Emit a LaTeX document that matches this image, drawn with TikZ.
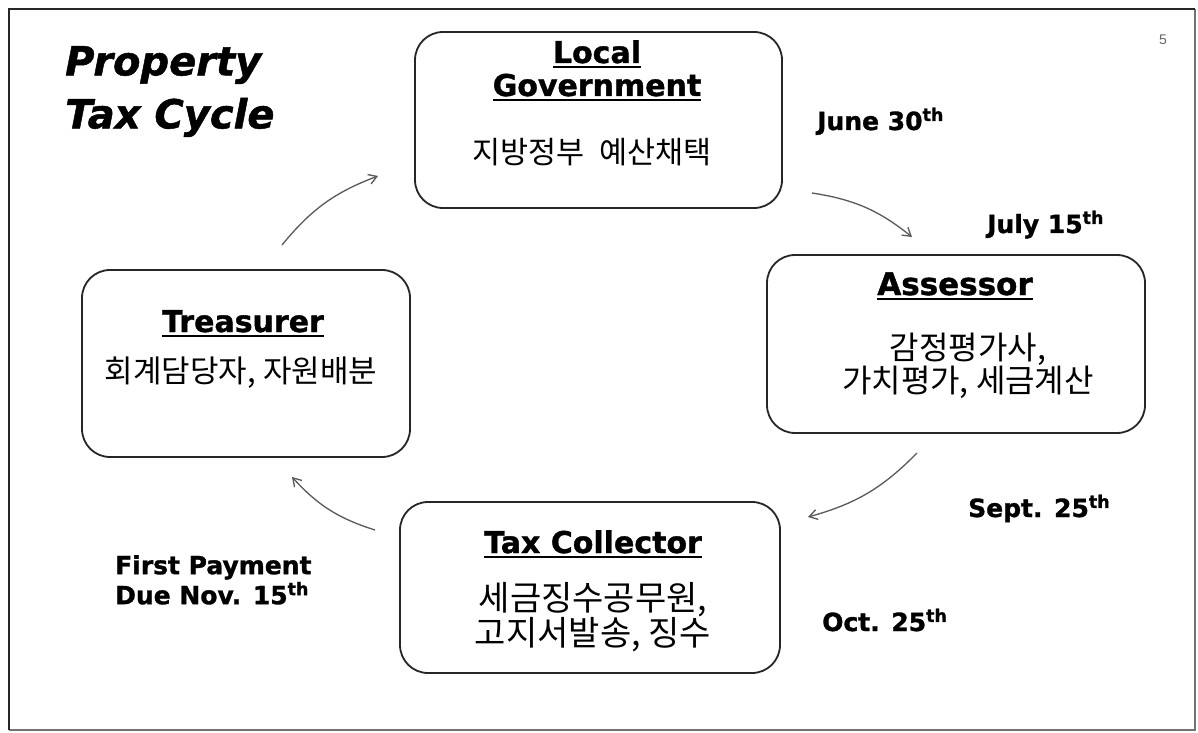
\documentclass[tikz,border=0pt]{standalone}
\usepackage{fontspec}
\usetikzlibrary{arrows.meta,calc}
\newfontfamily\blk{DejaVu Sans Bold}[FakeBold=1.2]
\newfontfamily\blki{DejaVu Sans Bold Oblique}[FakeBold=1.2]
\newfontfamily\krf{Noto Sans CJK KR}
\newfontfamily\libs{Liberation Sans}
\newcommand\hdul[1]{\leavevmode\setbox0=\hbox{#1}\rlap{\rule[-5pt]{\wd0}{2pt}}\box0}
\tikzset{
  box/.style={draw=black!85, line width=1.8pt, rounded corners=28pt, inner sep=0pt},
  hdr/.style={font=\blk\fontsize{30}{33}\selectfont, inner sep=0pt, align=center},
  kor/.style={font=\krf\fontsize{31}{31}\selectfont, inner sep=0pt, align=center},
  date/.style={font=\blk\fontsize{25}{30}\selectfont, inner sep=0pt, anchor=base west, align=left},
  cyc/.style={draw=black!65, line width=1.3pt, -{Straight Barb[length=8pt,width=10pt,line width=1.3pt]}, bend left=15}
}
\begin{document}
\begin{tikzpicture}[x=1pt,y=1pt]
\useasboundingbox (0,0) rectangle (1198,732);
\fill[white] (0,0) rectangle (1198,732);
% frame
\draw[black!55, line width=2pt] (1195,723) -- (1195,2) -- (9,2);
\draw[black!85, line width=2.6pt] (9,2) -- (9,723) -- (1195,723);
% page number
\node[font=\libs\fontsize{14}{14}\selectfont, text=black!60] (pg) at (1163,692) {5};
% title
\node[anchor=north west, inner sep=0pt, align=left, font=\blki\fontsize{40}{53}\selectfont] (title) at (65,686) {Property\\Tax Cycle};
% boxes
\node[box, minimum width=367pt, minimum height=176pt] (lg) at (598.5,612) {};
\node[box, minimum width=378pt, minimum height=178pt] (as) at (956,388) {};
\node[box, minimum width=328pt, minimum height=187pt] (tr) at (246,368.5) {};
\node[box, minimum width=380pt, minimum height=171pt] (tc) at (590,144.5) {};
% headers
\node[hdr, anchor=north] (lgh) at (597,692) {\hdul{Local}\\\hdul{Government}};
\node[hdr, anchor=base, font=\blk\fontsize{31}{33}\selectfont] (ash) at (955,437) {\hdul{Assessor}};
\node[hdr, anchor=base] (trh) at (243,400) {\hdul{Treasurer}};
\node[hdr, anchor=base] (tch) at (593,179) {\hdul{Tax Collector}};
% korean
\node[kor, font=\krf\fontsize{30.5}{30.5}\selectfont] (lgk) at (592,580) {지방정부\hspace{0.5em}예산채택};
\node[kor, font=\krf\fontsize{32}{28}\selectfont] (ask) at (968,366) {감정평가사,\\가치평가, 세금계산};
\node[kor] (trk) at (241,359) {회계담당자, 자원배분};
\node[kor, font=\krf\fontsize{34}{35}\selectfont] (tck) at (593,115) {세금징수공무원,\\고지서발송, 징수};
% dates
\node[date] (d1) at (817,602) {June 30\textsuperscript{th}};
\node[date] (d2) at (987,499) {July 15\textsuperscript{th}};
\node[date] (d3) at (968,215) {Sept. 25\textsuperscript{th}};
\node[date] (d4) at (822,101) {Oct. 25\textsuperscript{th}};
\node[date, anchor=north west] (d5) at (115,177) {First Payment\\Due Nov. 15\textsuperscript{th}};
% arrows
\coordinate (a1s) at (282,487); \coordinate (a1e) at (378,556);
\coordinate (a2s) at (812,539); \coordinate (a2e) at (912,495);
\coordinate (a3s) at (917,279); \coordinate (a3e) at (808,215);
\coordinate (a4s) at (375,202); \coordinate (a4e) at (292,255);
\draw[cyc] (a1s) to (a1e);
\draw[cyc] (a2s) to (a2e);
\draw[cyc] (a3s) to (a3e);
\draw[cyc] (a4s) to (a4e);
\end{tikzpicture}
\end{document}
